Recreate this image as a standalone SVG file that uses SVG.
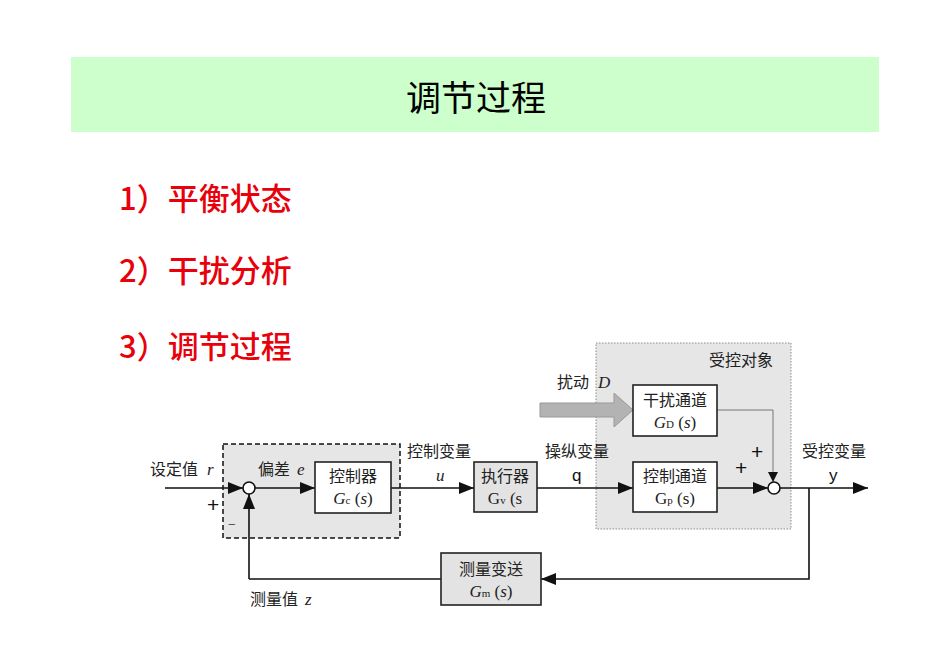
<svg xmlns="http://www.w3.org/2000/svg" width="950" height="672" viewBox="0 0 950 672">
<defs>
<style>
.cn{font-family:"Noto Sans CJK SC","Noto Sans CJK TC",sans-serif;font-size:16px;fill:#222}
.it{font-family:"Liberation Serif",serif;font-style:italic;font-size:17px;fill:#222}
.rm{font-family:"Liberation Serif",serif;font-size:17px;fill:#222}
.sn{font-family:"Liberation Sans",sans-serif;font-size:17px;fill:#111}
.pl{font-family:"Liberation Sans",sans-serif;font-size:21px;fill:#111}
.red{font-family:"Noto Sans CJK SC",sans-serif;font-size:31px;font-weight:500;fill:#e8000b}
.box{fill:#fff;stroke:#222;stroke-width:1.6}
.gbox{fill:#e3e3e3;stroke:#222;stroke-width:1.6}
.ln{fill:none;stroke:#111;stroke-width:1.6}
.mid{text-anchor:middle}
</style>
<marker id="ah" markerUnits="userSpaceOnUse" markerWidth="16" markerHeight="14" refX="15" refY="6" orient="auto"><path d="M0,0 L15,6 L0,12 z" fill="#111"/></marker>
<marker id="ahs" markerUnits="userSpaceOnUse" markerWidth="12" markerHeight="12" refX="10" refY="5" orient="auto"><path d="M0,0 L10,5 L0,10 z" fill="#111"/></marker>
</defs>
<rect width="950" height="672" fill="#fff"/>
<g id="title">
<rect x="71" y="57" width="808" height="75" fill="#ccffcc"/>
<text x="476" y="111" class="mid" style="font-family:'Noto Sans CJK SC',sans-serif;font-size:35px;fill:#000">调节过程</text>
</g>
<g id="list">
<text x="119" y="210" class="red">1）平衡状态</text>
<text x="119" y="282" class="red">2）干扰分析</text>
<text x="119" y="358" class="red">3）调节过程</text>
</g>
<g id="plant">
<rect x="596" y="343" width="195" height="186" fill="#e6e6e6" stroke="#8a8a8a" stroke-width="1" stroke-dasharray="1.5,1.5"/>
<text x="709" y="366" class="cn">受控对象</text>
</g>
<g id="controllerRegion">
<rect x="223" y="444" width="177" height="94" fill="#e6e6e6" stroke="#111" stroke-width="1.5" stroke-dasharray="5,3"/>
</g>
<g id="disturbanceArrow">
<path d="M540,403 H614 V393 L633,410 L614,427 V417 H540 z" fill="#b3b3b3" stroke="#999" stroke-width="1"/>
<text x="557" y="388" class="cn">扰动</text>
<text x="598" y="388" class="it">D</text>
</g>
<g id="connectors">
<path d="M165,488 H243" class="ln" marker-end="url(#ah)"/>
<path d="M249,579 V494" class="ln" marker-end="url(#ah)"/>
<path d="M255,488 H315" class="ln" marker-end="url(#ah)"/>
<path d="M391,488 H474" class="ln" marker-end="url(#ah)"/>
<path d="M537,488 H633" class="ln" marker-end="url(#ah)"/>
<path d="M717,488 H768" class="ln" marker-end="url(#ah)"/>
<path d="M717,410 H773 V482" fill="none" stroke="#777" stroke-width="1" marker-end="url(#ahs)"/>
<path d="M780,488 H868" class="ln" marker-end="url(#ah)"/>
<path d="M809,488 V579 H541" class="ln" marker-end="url(#ah)"/>
<path d="M441,579 H249" class="ln"/>
</g>
<g id="sum1">
<circle cx="249" cy="488" r="6" fill="#fff" stroke="#111" stroke-width="1.6"/>
<text x="207" y="512" class="pl">+</text>
<text x="228" y="529" style="font-family:'Liberation Sans',sans-serif;font-size:13px;fill:#555">−</text>
</g>
<g id="sum2">
<circle cx="774" cy="488" r="6" fill="#fff" stroke="#111" stroke-width="1.6"/>
<text x="751" y="459" class="pl">+</text>
<text x="735" y="475" class="pl">+</text>
</g>
<g id="controller">
<rect x="315" y="462" width="76" height="51" class="box"/>
<text x="353" y="482" class="cn mid">控制器</text>
<text x="353" y="504" class="mid"><tspan class="it">G</tspan><tspan class="rm" style="font-size:11px">c</tspan><tspan class="rm"> (</tspan><tspan class="it">s</tspan><tspan class="rm">)</tspan></text>
</g>
<g id="actuator">
<rect x="474" y="462" width="63" height="50" class="gbox"/>
<text x="505" y="482" class="cn mid">执行器</text>
<text x="505" y="504" class="mid"><tspan class="rm">G</tspan><tspan class="rm" style="font-size:11px">v</tspan><tspan class="rm"> (s</tspan></text>
</g>
<g id="disturbanceChannel">
<rect x="633" y="385" width="84" height="51" class="box"/>
<text x="675" y="406" class="cn mid">干扰通道</text>
<text x="675" y="428" class="mid"><tspan class="it">G</tspan><tspan class="rm" style="font-size:11px">D</tspan><tspan class="rm"> (</tspan><tspan class="it">s</tspan><tspan class="rm">)</tspan></text>
</g>
<g id="controlChannel">
<rect x="633" y="462" width="84" height="50" class="box"/>
<text x="675" y="482" class="cn mid">控制通道</text>
<text x="675" y="504" class="mid"><tspan class="rm">G</tspan><tspan class="rm" style="font-size:11px">p</tspan><tspan class="rm"> (s)</tspan></text>
</g>
<g id="measurement">
<rect x="441" y="553" width="100" height="52" class="gbox"/>
<text x="491" y="575" class="cn mid">测量变送</text>
<text x="491" y="597" class="mid"><tspan class="it">G</tspan><tspan class="rm" style="font-size:11px">m</tspan><tspan class="rm"> (</tspan><tspan class="it">s</tspan><tspan class="rm">)</tspan></text>
</g>
<g id="labels">
<text x="150" y="475" class="cn">设定值</text>
<text x="207" y="475" class="it">r</text>
<text x="258" y="475" class="cn">偏差</text>
<text x="297" y="475" class="it">e</text>
<text x="407" y="457" class="cn">控制变量</text>
<text x="436" y="481" class="it">u</text>
<text x="545" y="457" class="cn">操纵变量</text>
<text x="572" y="481" class="sn">q</text>
<text x="802" y="457" class="cn">受控变量</text>
<text x="829" y="481" class="sn">y</text>
<text x="250" y="605" class="cn">测量值</text>
<text x="305" y="605" class="it">z</text>
</g>
</svg>
